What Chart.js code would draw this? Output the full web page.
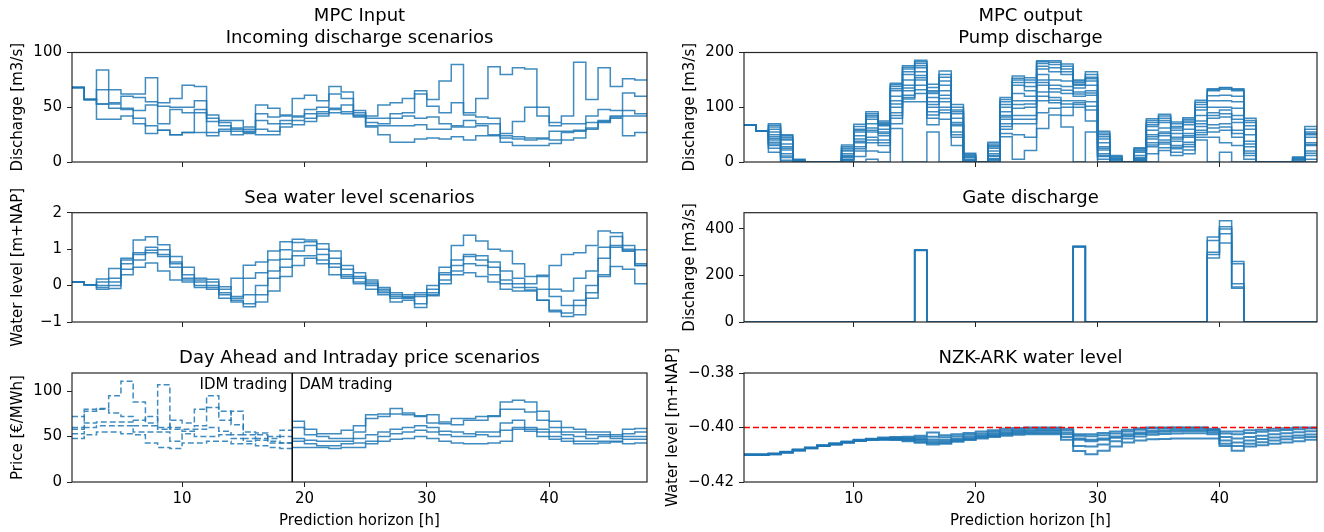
<!DOCTYPE html>
<html><head><meta charset="utf-8">
<script src="https://cdn.jsdelivr.net/npm/chart.js@4.4.1/dist/chart.umd.min.js"></script>
<style>
html,body{margin:0;padding:0;background:#fff;}
#wrap{position:relative;width:1324px;height:532px;overflow:hidden;background:#fff;}
canvas{position:absolute;top:0;}
</style></head><body>
<div id="wrap">
<canvas id="L1" width="660" height="532" style="left:0px"></canvas>
<canvas id="L2" width="660" height="532" style="left:0px"></canvas>
<canvas id="L3" width="660" height="532" style="left:0px"></canvas>
<canvas id="R1" width="662" height="532" style="left:662px"></canvas>
<canvas id="R2" width="662" height="532" style="left:662px"></canvas>
<canvas id="R3" width="662" height="532" style="left:662px"></canvas>
</div>
<script>
// ---------- DATA ----------
const hours = [1,2,3,4,5,6,7,8,9,10,11,12,13,14,15,16,17,18,19,20,21,22,23,24,25,26,27,28,29,30,31,32,33,34,35,36,37,38,39,40,41,42,43,44,45,46,47,48];
const xTickValues = [10,20,30,40];

// Incoming discharge scenarios [m3/s]
const inflowA = [68,57,84,66,62,62,77,54,58,70,69,43,38,38,32,52,49,43,58,61,56,69,64,47,42,52,54,58,65,57,74,89,45,58,87,80,86,85,50,36,42,91,57,86,69,76,75,75];
const inflowB = [68,57,66,54,60,59,55,51,50,50,56,40,36,31,30,44,41,42,42,48,50,62,58,45,40,40,44,45,62,51,45,54,43,41,40,26,37,50,42,33,35,35,42,48,47,63,60,60];
const inflowC = [68,57,53,53,49,47,52,35,48,45,48,37,33,30,28,38,35,38,41,44,46,49,52,43,36,35,40,42,40,41,35,33,38,35,35,24,23,22,22,28,28,29,36,38,42,47,44,44];
const inflowD = [68,57,53,49,48,40,33,29,25,27,45,27,30,28,27,30,28,35,38,40,44,48,46,42,33,33,33,33,34,30,30,32,32,33,25,22,21,20,21,20,27,28,31,37,41,42,42,42];
const inflowE = [68,57,39,39,42,35,26,29,25,27,27,24,28,25,26,25,25,32,34,37,42,45,44,41,32,25,18,18,21,22,21,23,20,24,24,18,15,15,15,17,20,22,30,36,40,24,27,27];

// Sea water level scenarios [m+NAP]
const sea1 = [0.1,0.02,0.18,0.47,0.75,1.25,1.34,1.12,0.8,0.5,0.2,0.17,-0.03,-0.3,-0.25,0.0,0.4,0.98,1.27,1.25,1.15,0.95,0.55,0.35,0.15,-0.05,-0.2,-0.25,-0.2,0.0,0.5,1.1,1.38,1.22,1.0,0.95,0.6,0.25,0.28,0.55,0.85,0.9,1.1,1.5,1.45,1.0,0.98,0.98];
const sea2 = [0.1,0.02,0.1,0.2,0.7,0.9,1.05,0.98,0.65,0.3,0.15,0.1,-0.1,0.2,0.56,0.65,0.95,1.2,1.18,1.2,1.0,0.75,0.45,0.25,0.1,-0.1,-0.25,-0.3,-0.25,-0.1,0.35,0.7,0.85,0.82,0.65,0.4,0.2,0.05,0.25,-0.1,-0.15,0.2,0.4,1.05,1.35,1.1,0.6,0.6];
const sea3 = [0.1,0.02,0.0,0.1,0.6,0.85,0.97,0.85,0.6,0.2,0.1,0.0,-0.2,-0.35,0.2,0.35,0.7,0.72,0.95,1.1,0.85,0.6,0.3,0.2,0.05,-0.15,-0.3,-0.33,-0.3,-0.2,0.3,0.55,0.8,0.7,0.5,0.15,0.05,-0.05,-0.1,-0.3,-0.55,-0.4,0.0,0.75,1.1,0.95,0.55,0.55];
const sea4 = [0.1,0.02,-0.05,0.0,0.45,0.7,0.9,0.8,0.5,0.15,0.0,-0.05,-0.25,-0.4,-0.5,-0.25,0.2,0.5,0.82,0.82,0.7,0.5,0.25,0.1,0.0,-0.2,-0.35,-0.35,-0.5,-0.25,0.15,0.4,0.6,0.55,0.3,0.05,-0.05,-0.12,-0.4,-0.68,-0.75,-0.55,-0.2,0.3,1.05,0.95,0.55,0.55];
const sea5 = [0.1,0.02,-0.1,-0.08,0.3,0.5,0.62,0.4,0.15,0.1,-0.05,-0.1,-0.35,-0.45,-0.58,-0.45,-0.15,0.25,0.55,0.75,0.6,0.3,0.2,0.05,-0.1,-0.25,-0.45,-0.4,-0.6,-0.28,0.05,0.3,0.35,0.25,0.1,-0.1,-0.15,-0.15,-0.4,-0.72,-0.85,-0.8,-0.35,0.25,0.52,0.45,0.05,0.05];

// Price scenarios [EUR/MWh]: intraday (hours 1-19) and day ahead (hours 19-48)
const tradingSwitchHour = 19;
const idm1 = [72,80,81,95,111,88,65,107,60,56,62,95,68,78,52,48,45,43,43];
const idm2 = [60,78,80,76,72,68,72,58,68,65,80,82,78,63,55,54,50,57,57];
const idm3 = [58,65,66,66,66,62,62,60,58,58,58,60,56,52,48,52,48,50,50];
const idm4 = [53,60,62,62,62,55,55,55,45,53,50,50,52,48,45,46,43,43,43];
const idm5 = [48,52,55,55,53,52,43,38,37,43,43,45,45,42,42,40,38,37,37];
const dam1 = [67,58,53,53,57,62,74,75,81,76,73,74,66,70,70,72,73,88,90,88,78,67,60,58,55,55,52,58,59,59];
const dam2 = [60,52,50,48,48,55,70,72,75,74,72,65,64,63,68,68,72,80,80,77,68,60,55,55,52,52,50,53,55,55];
const dam3 = [48,46,45,45,45,48,52,55,58,60,62,60,56,55,53,55,55,65,68,60,58,55,52,50,48,50,48,50,50,50];
const dam4 = [45,42,40,40,42,43,45,50,53,55,57,55,52,50,50,52,50,57,60,58,55,50,48,45,45,45,45,47,47,47];
const dam5 = [38,38,38,37,38,38,42,45,47,48,50,48,45,43,42,42,43,45,58,56,50,47,45,42,42,43,44,42,43,43];

// Pump discharge [m3/s]
const pump1  = [68,57,70,50,5,0,0,0,31,69,92,75,144,176,186,142,166,105,16,0,36,118,157,154,185,185,179,150,165,56,12,0,26,79,87,73,81,113,134,136,134,80,0,0,0,9,65,65];
const pump2  = [68,57,64,45,3,0,0,0,25,60,85,70,138,170,180,130,155,95,12,0,30,110,150,145,180,178,170,145,155,50,8,0,22,72,80,65,75,105,130,133,130,72,0,0,0,6,55,55];
const pump3  = [68,57,55,40,0,0,0,0,20,55,78,66,130,160,172,125,140,88,8,0,25,100,140,130,170,165,160,140,148,42,5,0,18,65,72,58,68,95,112,112,110,60,0,0,0,3,50,50];
const pump4  = [68,57,50,33,0,0,0,0,15,48,70,60,120,150,165,118,130,80,5,0,20,92,125,120,160,150,148,135,140,35,3,0,12,58,62,52,60,85,100,100,98,50,0,0,0,0,45,45];
const pump5  = [68,57,46,28,0,0,0,0,12,42,62,55,112,140,158,110,122,72,3,0,15,85,112,112,150,140,138,128,130,28,0,0,8,50,55,45,52,75,90,95,85,38,0,0,0,0,35,35];
const pump6  = [68,57,40,22,0,0,0,0,8,35,55,48,100,130,150,100,110,66,0,0,10,78,98,100,140,128,125,120,122,22,0,0,5,42,48,38,45,65,80,82,72,28,0,0,0,0,30,30];
const pump7  = [68,57,36,15,0,0,0,0,5,28,45,40,90,122,140,92,100,55,0,0,6,70,85,85,128,118,112,112,110,15,0,0,3,35,40,30,36,58,68,70,58,20,0,0,0,0,20,20];
const pump8  = [68,57,30,8,0,0,0,0,3,20,35,30,80,115,125,80,90,45,0,0,3,60,70,70,112,108,100,105,95,10,0,0,0,28,33,24,28,50,55,58,45,12,0,0,0,0,12,12];
const pump9  = [68,57,25,3,0,0,0,0,0,10,20,18,70,110,110,68,78,30,0,0,0,52,50,45,90,98,85,100,75,5,0,0,0,15,26,18,22,45,45,35,30,5,0,0,0,0,5,5];
const pump10 = [68,57,18,0,0,0,0,0,0,0,5,0,61,0,0,55,0,0,0,0,0,46,5,21,61,86,64,0,55,0,0,0,0,0,21,12,15,40,0,18,0,0,0,0,0,0,0,0];
const pump11 = [68,57,67,48,4,0,0,0,28,65,88,72,141,173,183,136,160,100,14,0,33,114,153,150,183,182,175,148,160,53,10,0,24,76,84,70,78,109,132,135,132,76,0,0,0,8,60,60];
const pump12 = [68,57,60,42,2,0,0,0,22,58,82,68,134,165,176,128,148,92,10,0,28,105,145,138,175,172,165,142,152,46,6,0,20,68,76,62,72,100,121,122,120,66,0,0,0,5,52,52];
const pump13 = [68,57,43,25,0,0,0,0,10,38,58,52,106,135,154,105,116,69,2,0,12,82,105,106,145,134,131,124,126,25,0,0,6,46,52,42,48,70,85,88,78,33,0,0,0,0,32,32];
const pump14 = [68,57,33,11,0,0,0,0,4,24,40,35,85,118,132,86,95,50,0,0,5,65,78,78,120,113,106,108,102,12,0,0,2,31,36,27,32,54,62,64,52,16,0,0,0,0,16,16];

// Gate discharge [m3/s]
const gate1 = [0,0,0,0,0,0,0,0,0,0,0,0,0,0,308,0,0,0,0,0,0,0,0,0,0,0,0,325,0,0,0,0,0,0,0,0,0,0,365,435,260,0,0,0,0,0,0,0];
const gate2 = [0,0,0,0,0,0,0,0,0,0,0,0,0,0,309,0,0,0,0,0,0,0,0,0,0,0,0,324,0,0,0,0,0,0,0,0,0,0,350,410,250,0,0,0,0,0,0,0];
const gate3 = [0,0,0,0,0,0,0,0,0,0,0,0,0,0,307,0,0,0,0,0,0,0,0,0,0,0,0,326,0,0,0,0,0,0,0,0,0,0,300,400,165,0,0,0,0,0,0,0];
const gate4 = [0,0,0,0,0,0,0,0,0,0,0,0,0,0,308,0,0,0,0,0,0,0,0,0,0,0,0,325,0,0,0,0,0,0,0,0,0,0,290,380,150,0,0,0,0,0,0,0];
const gate5 = [0,0,0,0,0,0,0,0,0,0,0,0,0,0,310,0,0,0,0,0,0,0,0,0,0,0,0,323,0,0,0,0,0,0,0,0,0,0,275,340,145,0,0,0,0,0,0,0];

// NZK-ARK water level [m+NAP]
const waterLevelLimit = -0.40;
const wl1 = [-0.4099,-0.4099,-0.4095,-0.4089,-0.4081,-0.4073,-0.4065,-0.4058,-0.4051,-0.4045,-0.4041,-0.4037,-0.4035,-0.4034,-0.4030,-0.4018,-0.4028,-0.4025,-0.4020,-0.4015,-0.4010,-0.4005,-0.4002,-0.4000,-0.4000,-0.4000,-0.4005,-0.4025,-0.4025,-0.4020,-0.4015,-0.4008,-0.4003,-0.4000,-0.4000,-0.4000,-0.4000,-0.4000,-0.4005,-0.4015,-0.4015,-0.4010,-0.4008,-0.4005,-0.4003,-0.4000,-0.4000,-0.4000];
const wl2 = [-0.4099,-0.4099,-0.4096,-0.4090,-0.4082,-0.4074,-0.4066,-0.4060,-0.4053,-0.4047,-0.4043,-0.4039,-0.4038,-0.4038,-0.4036,-0.4034,-0.4036,-0.4032,-0.4027,-0.4022,-0.4016,-0.4011,-0.4007,-0.4004,-0.4003,-0.4003,-0.4010,-0.4030,-0.4032,-0.4028,-0.4022,-0.4015,-0.4008,-0.4004,-0.4002,-0.4001,-0.4001,-0.4001,-0.4008,-0.4022,-0.4025,-0.4020,-0.4016,-0.4012,-0.4009,-0.4006,-0.4004,-0.4004];
const wl3 = [-0.4100,-0.4100,-0.4097,-0.4091,-0.4083,-0.4075,-0.4067,-0.4061,-0.4054,-0.4048,-0.4044,-0.4041,-0.4040,-0.4041,-0.4042,-0.4044,-0.4045,-0.4040,-0.4034,-0.4028,-0.4022,-0.4017,-0.4013,-0.4010,-0.4009,-0.4009,-0.4018,-0.4040,-0.4045,-0.4040,-0.4033,-0.4025,-0.4018,-0.4013,-0.4010,-0.4008,-0.4007,-0.4007,-0.4012,-0.4035,-0.4040,-0.4035,-0.4030,-0.4025,-0.4021,-0.4017,-0.4014,-0.4014];
const wl4 = [-0.4100,-0.4100,-0.4097,-0.4091,-0.4083,-0.4075,-0.4067,-0.4061,-0.4054,-0.4048,-0.4044,-0.4042,-0.4042,-0.4044,-0.4046,-0.4050,-0.4050,-0.4045,-0.4039,-0.4033,-0.4027,-0.4022,-0.4018,-0.4015,-0.4014,-0.4014,-0.4025,-0.4045,-0.4050,-0.4045,-0.4038,-0.4031,-0.4024,-0.4019,-0.4016,-0.4014,-0.4013,-0.4013,-0.4018,-0.4048,-0.4055,-0.4048,-0.4042,-0.4037,-0.4033,-0.4029,-0.4026,-0.4026];
const wl5 = [-0.4101,-0.4101,-0.4098,-0.4092,-0.4084,-0.4076,-0.4068,-0.4062,-0.4055,-0.4049,-0.4045,-0.4044,-0.4044,-0.4047,-0.4052,-0.4057,-0.4056,-0.4049,-0.4043,-0.4037,-0.4031,-0.4026,-0.4022,-0.4020,-0.4020,-0.4020,-0.4035,-0.4068,-0.4070,-0.4062,-0.4050,-0.4040,-0.4033,-0.4027,-0.4024,-0.4022,-0.4021,-0.4021,-0.4025,-0.4060,-0.4068,-0.4060,-0.4054,-0.4048,-0.4043,-0.4038,-0.4035,-0.4035];
const wl6 = [-0.4101,-0.4101,-0.4098,-0.4092,-0.4084,-0.4076,-0.4068,-0.4062,-0.4055,-0.4049,-0.4045,-0.4045,-0.4046,-0.4050,-0.4056,-0.4062,-0.4060,-0.4052,-0.4046,-0.4040,-0.4035,-0.4030,-0.4027,-0.4025,-0.4025,-0.4025,-0.4045,-0.4086,-0.4098,-0.4085,-0.4070,-0.4055,-0.4048,-0.4043,-0.4042,-0.4040,-0.4040,-0.4040,-0.4040,-0.4068,-0.4085,-0.4070,-0.4065,-0.4060,-0.4055,-0.4050,-0.4045,-0.4045];

// ---------- RENDERING ----------
Chart.defaults.font.family = '"DejaVu Sans", sans-serif';
Chart.defaults.font.size = 15;
Chart.defaults.color = '#000';

const BLUE = 'rgba(31,119,180,0.85)';
const idmHours = hours.slice(0, tradingSwitchHour);
const damHours = hours.slice(tradingSwitchHour - 1);

function stepSet(xs, ys, extra) {
  return Object.assign({
    data: ys.map((y, i) => ({x: xs[i], y: y})),
    borderColor: BLUE, borderWidth: 1.5, stepped: 'before',
    pointRadius: 0, fill: false, tension: 0
  }, extra || {});
}

const framePlugin = {
  id: 'frame',
  afterDatasetsDraw(chart) {
    const {ctx, chartArea: a} = chart;
    ctx.save();
    ctx.strokeStyle = '#262626';
    ctx.lineWidth = 1.2;
    ctx.strokeRect(a.left, a.top, a.right - a.left, a.bottom - a.top);
    ctx.restore();
  }
};

const tradingPlugin = {
  id: 'trading',
  afterDatasetsDraw(chart) {
    const {ctx, chartArea: a, scales} = chart;
    const px = scales.x.getPixelForValue(tradingSwitchHour);
    ctx.save();
    ctx.strokeStyle = '#000';
    ctx.lineWidth = 1.5;
    ctx.beginPath();
    ctx.moveTo(px, a.top);
    ctx.lineTo(px, a.bottom);
    ctx.stroke();
    ctx.font = '15px "DejaVu Sans"';
    ctx.fillStyle = '#000';
    ctx.textBaseline = 'middle';
    ctx.textAlign = 'right';
    ctx.fillText('IDM trading', px - 5, a.top + 12);
    ctx.textAlign = 'left';
    ctx.fillText('DAM trading', px + 7, a.top + 12);
    ctx.restore();
  }
};

const minus = v => (v < 0 ? '\u2212' : '') + Math.abs(v);

function panel(id, cfg) {
  const gridOpts = {drawOnChartArea: false, drawTicks: true, tickLength: 5, color: '#222', tickColor: '#222', lineWidth: 1};
  return new Chart(document.getElementById(id), {
    type: 'line',
    data: {datasets: cfg.datasets},
    options: {
      responsive: false, animation: false, devicePixelRatio: 1,
      layout: {padding: {top: cfg.padTop, bottom: cfg.padBottom, left: 0, right: cfg.padRight}},
      plugins: {
        legend: {display: false},
        tooltip: {enabled: false},
        title: {display: true, text: cfg.title, fullSize: false, color: '#000',
          font: {size: 18, weight: 'normal', lineHeight: 1.2}, padding: {top: 0, bottom: 3.4}}
      },
      scales: {
        x: {
          type: 'linear', min: 1, max: 48,
          afterBuildTicks: s => { s.ticks = xTickValues.map(v => ({value: v})); },
          afterFit: s => { s.height = cfg.xH; },
          grid: gridOpts, border: {display: false},
          ticks: {padding: 3, color: '#000', maxRotation: 0, autoSkip: false,
            callback: cfg.xLabels ? (v => String(v)) : (() => '')},
          title: {display: !!cfg.xTitle, text: cfg.xTitle || '', color: '#000',
            font: {size: 15}, padding: {top: 0, bottom: 2}}
        },
        y: {
          type: 'linear', min: cfg.ymin, max: cfg.ymax,
          afterBuildTicks: s => { s.ticks = cfg.yTicks.map(v => ({value: v})); },
          afterFit: s => { s.width = cfg.yW; },
          grid: gridOpts, border: {display: false},
          ticks: {padding: 5, color: '#000', autoSkip: false, callback: cfg.yFmt},
          title: {display: true, text: cfg.yTitle, color: '#000',
            font: {size: 15}, padding: {top: cfg.yTitlePad, bottom: 0}}
        }
      }
    },
    plugins: [framePlugin].concat(cfg.plugins || [])
  });
}

const ROW1 = {padTop: 5.9, padBottom: 360, xH: 10};
const ROW2 = {padTop: 187.7, padBottom: 200, xH: 10};
const ROW3 = {padTop: 348, padBottom: 0, xH: 50};
const LEFT = {yW: 72, padRight: 13, yTitlePad: 9};
const RIGHT = {yW: 82, padRight: 7, yTitlePad: 19};

panel('L1', Object.assign({}, ROW1, LEFT, {
  title: ['MPC Input', 'Incoming discharge scenarios'],
  yTitle: 'Discharge [m3/s]', ymin: 0, ymax: 100, yTicks: [0, 50, 100], yFmt: v => String(v),
  datasets: [inflowA, inflowB, inflowC, inflowD, inflowE].map(s => stepSet(hours, s))
}));

panel('L2', Object.assign({}, ROW2, LEFT, {
  title: 'Sea water level scenarios',
  yTitle: 'Water level [m+NAP]', ymin: -1, ymax: 2, yTicks: [-1, 0, 1, 2], yFmt: minus,
  datasets: [sea1, sea2, sea3, sea4, sea5].map(s => stepSet(hours, s))
}));

panel('L3', Object.assign({}, ROW3, LEFT, {
  title: 'Day Ahead and Intraday price scenarios',
  yTitle: 'Price [\u20AC/MWh]', ymin: 0, ymax: 120, yTicks: [0, 50, 100], yFmt: v => String(v),
  xLabels: true, xTitle: 'Prediction horizon [h]',
  datasets: [idm1, idm2, idm3, idm4, idm5].map(s => stepSet(idmHours, s, {borderDash: [6, 3]}))
    .concat([dam1, dam2, dam3, dam4, dam5].map(s => stepSet(damHours, s))),
  plugins: [tradingPlugin]
}));

panel('R1', Object.assign({}, ROW1, RIGHT, {
  title: ['MPC output', 'Pump discharge'],
  yTitle: 'Discharge [m3/s]', ymin: 0, ymax: 200, yTicks: [0, 100, 200], yFmt: v => String(v),
  datasets: [pump1, pump11, pump2, pump12, pump3, pump4, pump5, pump13, pump6, pump7, pump14, pump8, pump9, pump10].map(s => stepSet(hours, s))
}));

panel('R2', Object.assign({}, ROW2, RIGHT, {
  title: 'Gate discharge',
  yTitle: 'Discharge [m3/s]', ymin: 0, ymax: 470, yTicks: [0, 200, 400], yFmt: v => String(v),
  datasets: [gate1, gate2, gate3, gate4, gate5].map(s => stepSet(hours, s))
}));

panel('R3', Object.assign({}, ROW3, RIGHT, {
  yTitlePad: 2,
  title: 'NZK-ARK water level',
  yTitle: 'Water level [m+NAP]', ymin: -0.42, ymax: -0.38, yTicks: [-0.42, -0.40, -0.38],
  yFmt: v => (v < 0 ? '\u2212' : '') + Math.abs(v).toFixed(2),
  xLabels: true, xTitle: 'Prediction horizon [h]',
  datasets: [{
    data: [{x: hours[0], y: waterLevelLimit}, {x: hours[hours.length - 1], y: waterLevelLimit}],
    borderColor: '#ff0000', borderWidth: 1.5, borderDash: [6, 3], pointRadius: 0, fill: false
  }].concat([wl1, wl2, wl3, wl4, wl5, wl6].map(s => stepSet(hours, s, {borderWidth: 2})))
}));
</script>
</body></html>
